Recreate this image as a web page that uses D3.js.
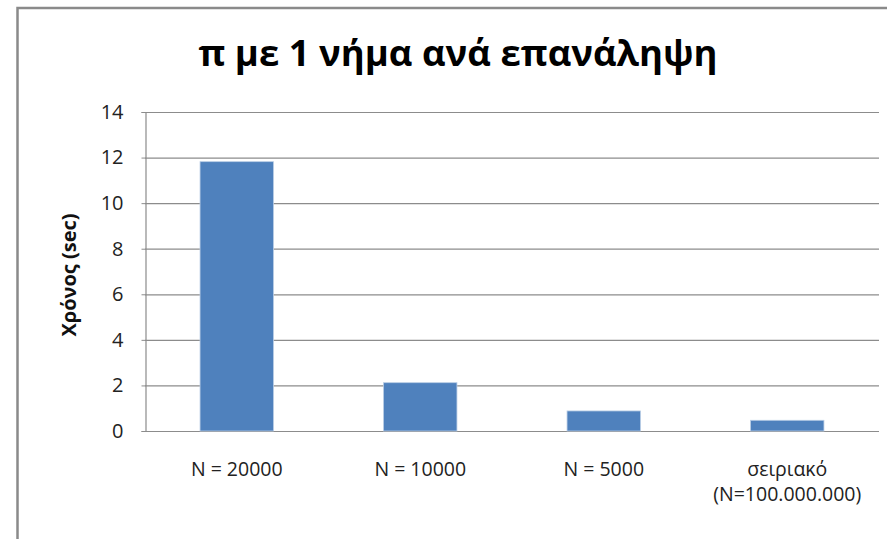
<!DOCTYPE html>
<html lang="el">
<head>
<meta charset="UTF-8">
<title>π με 1 νήμα ανά επανάληψη</title>
<script src="https://d3js.org/d3.v7.min.js"></script>
<style>
    body { margin: 0; background: #fff; font-family: "Open Sans", "Noto Sans", sans-serif; }
    svg { display: block; }
</style>
</head>
<body>
<svg id="chart" width="887" height="539"></svg>
<script>
    const categories = ["N = 20000", "N = 10000", "N = 5000", "σειριακό\n(N=100.000.000)"];
    const times = [11.82, 2.12, 0.88, 0.47];
    const yTicks = [0, 2, 4, 6, 8, 10, 12, 14];

    const svg = d3.select("#chart");
    const margin = { left: 145, top: 112, right: 879, bottom: 431 };

    // chart frame
    svg.append("rect")
        .attr("x", 17.5).attr("y", 8)
        .attr("width", 900).attr("height", 600)
        .attr("fill", "none").attr("stroke", "#8a8a8a").attr("stroke-width", 2.5);

    const x = d3.scaleBand()
        .domain(categories)
        .range([margin.left, margin.right])
        .paddingInner(0.6).paddingOuter(0.3);

    const y = d3.scaleLinear().domain([0, 14]).range([margin.bottom, margin.top]);

    // gridlines
    svg.append("g").selectAll("line")
        .data(yTicks)
        .join("line")
        .attr("x1", margin.left).attr("x2", margin.right)
        .attr("y1", d => y(d) + 0.5).attr("y2", d => y(d) + 0.5)
        .attr("stroke", "#8c8c8c").attr("stroke-width", 1.2);

    // y axis
    const yAxis = svg.append("g")
        .attr("transform", `translate(${margin.left + 0.5},0)`)
        .call(d3.axisLeft(y).tickValues(yTicks).tickSize(4).tickPadding(18));
    yAxis.select(".domain").attr("stroke", "#8c8c8c").attr("stroke-width", 1.2);
    yAxis.selectAll(".tick line").attr("stroke", "#8c8c8c");
    yAxis.selectAll("text")
        .attr("font-family", "'Open Sans', sans-serif")
        .attr("font-size", 20).attr("fill", "#222");

    // bars
    svg.append("g").selectAll("rect")
        .data(times)
        .join("rect")
        .attr("x", (d, i) => x(categories[i]))
        .attr("y", d => y(d))
        .attr("width", x.bandwidth())
        .attr("height", d => y(0) - y(d))
        .attr("fill", "#4f81bd")
        .attr("stroke", "#b9cde5").attr("stroke-width", 0.8);

    // category labels (one text per line so multi-line labels stack cleanly)
    const labelLines = [];
    categories.forEach(c => {
        c.split("\n").forEach((line, j) => labelLines.push({ cat: c, line: line, row: j }));
    });
    svg.append("g").selectAll("text")
        .data(labelLines)
        .join("text")
        .attr("x", d => x(d.cat) + x.bandwidth() / 2)
        .attr("y", d => 476 + d.row * 25)
        .attr("text-anchor", "middle")
        .attr("font-size", 19.5)
        .attr("fill", "#222")
        .text(d => d.line);

    // y axis title
    svg.append("text")
        .attr("transform", "translate(76,275) rotate(-90)")
        .attr("text-anchor", "middle")
        .attr("font-size", 20).attr("font-weight", "bold")
        .attr("fill", "#111")
        .text("Χρόνος (sec)");

    // title
    svg.append("text")
        .attr("x", 458).attr("y", 66)
        .attr("text-anchor", "middle")
        .attr("font-size", 36.5).attr("font-weight", "bold")
        .attr("fill", "#000")
        .text("π με 1 νήμα ανά επανάληψη");
</script>
</body>
</html>
